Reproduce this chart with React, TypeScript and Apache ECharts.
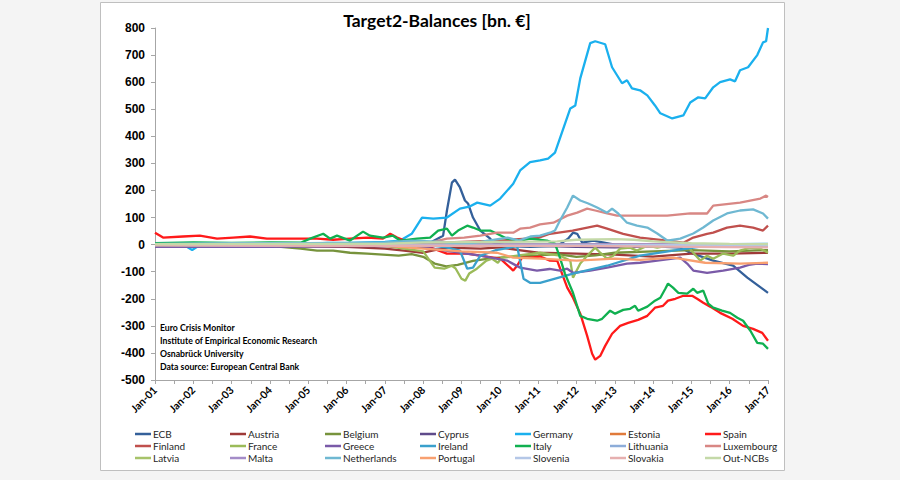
import React, { useEffect, useRef } from "react";
import * as echarts from "echarts";

type P = [number, number][];

// x = year (decimal), y = balance in bn. €
const ecb: P = [[2001, 0], [2003, -2], [2005, -3], [2007, -5], [2008, -3], [2008.18, 7], [2008.52, 33], [2008.62, 126], [2008.75, 229], [2008.83, 240], [2008.96, 211], [2009.09, 163], [2009.17, 152], [2009.3, 100], [2009.49, 52], [2009.75, 22], [2009.83, 7], [2010.2, -5], [2010.8, -8], [2011.5, -5], [2011.78, 22], [2011.91, 44], [2012.02, 40], [2012.15, 7], [2012.44, 15], [2013, 0], [2013.66, -4], [2014.71, -11], [2014.97, -30], [2015.57, -59], [2016.09, -78], [2016.46, -122], [2017, -178]];
const austria: P = [[2001, -3], [2004, -5], [2006, -8], [2007, -15], [2007.5, -22], [2008, -30], [2008.6, -11], [2009.5, -15], [2010, -10], [2010.5, -20], [2011, -30], [2012, -33], [2013, -37], [2014, -44], [2015, -33], [2016, -33], [2017, -30]];
const belgium: P = [[2001, -3], [2004, -5], [2004.8, -15], [2005.23, -22], [2005.65, -22], [2006.09, -30], [2006.54, -33], [2006.95, -37], [2007.36, -41], [2007.7, -35], [2008, -45], [2008.3, -70], [2008.6, -80], [2008.9, -75], [2009.3, -60], [2009.8, -50], [2010.3, -45], [2011, -40], [2011.5, -35], [2012, -45], [2012.5, -40], [2013, -30], [2014, -25], [2015, -20], [2016, -25], [2017, -20]];
const cyprus: P = [[2001, 0], [2008, -2], [2010, -3], [2011, -5], [2012, -8], [2013, -10], [2014, -6], [2015, -5], [2016, -4], [2017, -4]];
const germany: P = [[2001, 5], [2001.4, 0], [2001.8, -5], [2001.97, -20], [2002.15, -3], [2002.5, 2], [2003, 0], [2003.5, 3], [2004, 2], [2004.5, 5], [2005, 3], [2005.5, 6], [2006, 5], [2006.5, 8], [2007, 10], [2007.4, 15], [2007.7, 40], [2007.97, 100], [2008.26, 96], [2008.62, 100], [2008.96, 133], [2009.2, 140], [2009.41, 155], [2009.75, 144], [2010.01, 170], [2010.35, 225], [2010.53, 274], [2010.79, 305], [2011.05, 311], [2011.26, 318], [2011.44, 340], [2011.84, 503], [2011.97, 514], [2012.1, 614], [2012.36, 744], [2012.49, 751], [2012.75, 740], [2012.93, 655], [2013.19, 596], [2013.32, 607], [2013.45, 577], [2013.66, 570], [2013.85, 551], [2014.05, 514], [2014.19, 485], [2014.5, 466], [2014.79, 477], [2014.97, 525], [2015.18, 544], [2015.36, 540], [2015.57, 581], [2015.75, 600], [2016.01, 610], [2016.14, 603], [2016.27, 644], [2016.48, 655], [2016.72, 700], [2016.87, 747], [2016.95, 751], [2017, 800]];
const estonia: P = [[2001, -1], [2011, -1], [2014, -1], [2017, -2]];
const spain: P = [[2001, 44], [2001.21, 26], [2001.73, 30], [2002.17, 33], [2002.62, 22], [2003.04, 26], [2003.48, 30], [2003.92, 22], [2004.34, 22], [2004.79, 22], [2005.23, 22], [2005.65, 18], [2006.09, 22], [2006.54, 26], [2006.95, 22], [2007.14, 40], [2007.32, 26], [2007.66, 7], [2008.18, -10], [2008.62, -33], [2009.15, -33], [2009.49, -41], [2009.83, -48], [2010.01, -52], [2010.27, -85], [2010.35, -96], [2010.45, -78], [2010.58, -48], [2010.79, -48], [2011.05, -44], [2011.31, -59], [2011.5, -60], [2011.76, -159], [2011.91, -196], [2012.1, -255], [2012.28, -337], [2012.41, -403], [2012.49, -425], [2012.62, -411], [2012.75, -374], [2012.93, -329], [2013.14, -300], [2013.35, -289], [2013.61, -278], [2013.85, -263], [2014.05, -233], [2014.26, -226], [2014.39, -207], [2014.58, -200], [2014.79, -189], [2015.02, -189], [2015.15, -200], [2015.31, -215], [2015.49, -229], [2015.75, -252], [2016.07, -274], [2016.35, -300], [2016.61, -311], [2016.85, -326], [2017, -355]];
const finland: P = [[2001, 0], [2007, 2], [2008, 5], [2009, 10], [2010, 15], [2010.5, 20], [2011, 25], [2011.31, 40], [2011.9, 52], [2012.54, 70], [2012.8, 59], [2013.22, 40], [2013.66, 26], [2014.37, 15], [2014.79, 7], [2015.05, 26], [2015.41, 40], [2015.57, 44], [2015.93, 63], [2016.27, 70], [2016.61, 63], [2016.87, 52], [2017, 70]];
const france: P = [[2001, 0], [2005, -3], [2007, -5], [2007.5, -15], [2008, -25], [2008.3, -85], [2008.55, -89], [2008.75, -78], [2008.85, -89], [2009, -126], [2009.1, -133], [2009.2, -107], [2009.4, -89], [2009.65, -59], [2009.8, -52], [2009.95, -67], [2010.05, -48], [2010.5, -40], [2011.05, -30], [2011.57, -41], [2011.84, -59], [2011.91, -122], [2012.1, -70], [2012.28, -41], [2012.49, -11], [2012.62, -30], [2012.8, -52], [2012.96, -41], [2013.14, -15], [2013.4, -11], [2013.58, -22], [2013.85, -4], [2014.11, -11], [2014.37, -4], [2014.63, 4], [2014.89, -4], [2015.05, -30], [2015.23, -59], [2015.41, -41], [2015.57, -52], [2015.83, -33], [2016.09, -41], [2016.27, -22], [2016.54, -11], [2016.8, -15], [2017, -30]];
const greece: P = [[2001, -8], [2004, -8], [2007, -5], [2008, -10], [2008.5, -20], [2009.49, -41], [2010.19, -59], [2010.53, -85], [2010.97, -96], [2011.3, -90], [2011.57, -96], [2011.76, -89], [2011.91, -104], [2012.36, -96], [2012.8, -85], [2013.32, -70], [2013.66, -67], [2014.11, -59], [2014.71, -48], [2014.89, -70], [2015.05, -96], [2015.41, -104], [2015.83, -96], [2016.27, -85], [2016.5, -75], [2016.72, -70], [2017, -72]];
const ireland: P = [[2001, -3], [2007, -3], [2008, 0], [2008.6, -10], [2008.96, -22], [2009.15, -89], [2009.3, -85], [2009.49, -41], [2009.9, -20], [2010.3, -10], [2010.45, -4], [2010.62, -126], [2010.79, -141], [2011.05, -141], [2011.91, -107], [2012.8, -78], [2013.66, -41], [2014.52, -22], [2014.89, -15], [2015.41, -4], [2016, 2], [2017, 3]];
const italy: P = [[2001, 5], [2002, 8], [2003, 6], [2004, 8], [2004.8, 7], [2005.05, 22], [2005.39, 40], [2005.57, 22], [2005.75, 33], [2006.09, 15], [2006.43, 48], [2006.61, 33], [2006.95, 26], [2007.21, 33], [2007.4, 15], [2007.84, 22], [2008.18, 26], [2008.39, 52], [2008.62, 59], [2008.75, 33], [2008.91, 52], [2009.15, 70], [2009.3, 63], [2009.49, 52], [2009.75, 52], [2009.93, 40], [2010.19, 22], [2010.53, 15], [2010.79, 22], [2011.23, 15], [2011.44, 4], [2011.55, -40], [2011.7, -107], [2011.91, -178], [2012.1, -263], [2012.28, -274], [2012.54, -281], [2012.67, -274], [2012.88, -244], [2013.01, -255], [2013.22, -241], [2013.4, -237], [2013.53, -226], [2013.61, -244], [2013.85, -229], [2014.05, -207], [2014.19, -196], [2014.32, -163], [2014.39, -144], [2014.52, -159], [2014.66, -178], [2014.89, -181], [2015.05, -163], [2015.15, -178], [2015.31, -170], [2015.44, -218], [2015.57, -233], [2015.8, -244], [2016.01, -252], [2016.2, -270], [2016.35, -281], [2016.54, -318], [2016.72, -363], [2016.87, -366], [2017, -385]];
const lithuania: P = [[2001, 0], [2015, -2], [2017, -3]];
const luxembourg: P = [[2001, 0], [2003, 2], [2005, 3], [2006, 5], [2007, 5], [2007.7, 0], [2008.18, 7], [2008.62, 22], [2009.07, 26], [2009.49, 33], [2009.93, 44], [2010.35, 44], [2010.53, 59], [2010.79, 63], [2011.05, 75], [2011.4, 81], [2011.76, 107], [2012.02, 118], [2012.28, 133], [2012.49, 126], [2012.8, 115], [2013.06, 107], [2013.66, 107], [2014.37, 107], [2014.97, 115], [2015.41, 115], [2015.57, 144], [2016.27, 155], [2016.8, 170], [2016.95, 181], [2017, 176]];
const latvia: P = [[2001, 0], [2017, -1]];
const malta: P = [[2001, 0], [2017, 2]];
const netherlands: P = [[2001, 3], [2003, 5], [2005, 5], [2007, 8], [2007.7, 15], [2008.5, 10], [2009, 0], [2009.5, 10], [2010.2, 26], [2010.5, 15], [2010.8, 30], [2011.05, 33], [2011.31, 44], [2011.44, 52], [2011.57, 89], [2011.76, 137], [2011.91, 181], [2012.1, 163], [2012.31, 152], [2012.54, 137], [2012.8, 118], [2012.93, 133], [2013.09, 115], [2013.32, 81], [2013.58, 70], [2013.85, 63], [2014.11, 41], [2014.37, 15], [2014.71, 22], [2015.05, 41], [2015.31, 63], [2015.57, 89], [2015.93, 115], [2016.27, 126], [2016.61, 130], [2016.87, 115], [2017, 96]];
const portugal: P = [[2001, -3], [2007, -5], [2008, -15], [2009, -25], [2009.93, -30], [2010.35, -48], [2011.05, -52], [2012, -59], [2013, -52], [2013.66, -56], [2014.52, -48], [2015.36, -67], [2016.27, -70], [2017, -67]];
const slovenia: P = [[2001, -2], [2007, -3], [2011, -4], [2014, -2], [2017, -3]];
const slovakia: P = [[2001, -1], [2009, -5], [2012, -5], [2015, -8], [2017, -10]];
const outNcbs: P = [[2001, 2], [2007, 3], [2008, 8], [2010, 10], [2011.5, 12], [2012, 18], [2013, 20], [2013.5, 18], [2014, 12], [2015, 5], [2016, 3], [2017, 2]];

const seriesNames = ["ECB", "Austria", "Belgium", "Cyprus", "Germany", "Estonia", "Spain", "Finland", "France", "Greece", "Ireland", "Italy", "Lithuania", "Luxembourg", "Latvia", "Malta", "Netherlands", "Portugal", "Slovenia", "Slovakia", "Out-NCBs"];
const seriesValues: P[] = [ecb, austria, belgium, cyprus, germany, estonia, spain, finland, france, greece, ireland, italy, lithuania, luxembourg, latvia, malta, netherlands, portugal, slovenia, slovakia, outNcbs];
const seriesColors = ["#34609A", "#9E3A38", "#77933C", "#5F4B8B", "#1AB0EE", "#E07A3A", "#FF1A1A", "#C0504D", "#9BBB59", "#7A5AA8", "#3AA0CC", "#10B050", "#8DADD9", "#D88784", "#A7C36A", "#A48CC8", "#6FB8D2", "#F8A070", "#B4C7E7", "#E6B0B0", "#C4D9A8"];

const yMin = -500;
const yMax = 800;
const yStep = 100;
const xFirstYear = 2001;
const xLastYear = 2017;

const titleText = "Target2-Balances [bn. €]";
const noteLines = ["Euro Crisis Monitor", "Institute of Empirical Economic Research", "Osnabrück University", "Data source: European Central Bank"];

export default function App() {
  const ref = useRef<HTMLDivElement>(null);
  useEffect(() => {
    if (!ref.current) return;
    const chart = echarts.init(ref.current, undefined, { renderer: "svg" });
    const legends = seriesNames.map((name, i) => ({
      data: [name],
      left: 135 + (i % 7) * 95,
      top: 429 + Math.floor(i / 7) * 12,
      padding: 0,
      icon: "rect",
      itemWidth: 16,
      itemHeight: 2.5,
      selectedMode: false,
      textStyle: { fontFamily: "Lato", fontSize: 10, color: "#262626", padding: [0, 0, 0, -3] },
    }));
    const option: any = {
      animation: false,
      backgroundColor: "transparent",
      textStyle: { fontFamily: "Lato" },
      title: {
        text: titleText,
        left: 432,
        top: 6,
        textAlign: "center",
        textStyle: { fontFamily: "Lato", fontWeight: "bold", fontSize: 17.5, color: "#000" },
      },
      graphic: [
        {
          type: "rect",
          z: -10,
          shape: { x: 100.5, y: 2.5, width: 684, height: 468 },
          style: { fill: "#ffffff", stroke: "#BFBFBF", lineWidth: 1 },
        },
        ...noteLines.map((t, i) => ({
          type: "text",
          left: 160,
          top: 323 + i * 13,
          z: 10,
          style: { text: t, fontFamily: "Lato", fontWeight: "bold", fontSize: 8.7, fill: "#000" },
        })),
      ],
      legend: legends,
      grid: { left: 155, top: 28, width: 613, height: 352, containLabel: false },
      xAxis: {
        type: "value",
        min: xFirstYear,
        max: xLastYear,
        interval: 1,
        axisLine: { onZero: false, lineStyle: { color: "#A6A6A6" } },
        axisTick: { show: true, length: 4, lineStyle: { color: "#A6A6A6" } },
        minorTick: { show: true, splitNumber: 2, length: 4, lineStyle: { color: "#A6A6A6" } },
        splitLine: { show: false },
        axisLabel: {
          rotate: 45,
          margin: 8,
          fontFamily: "Lato",
          fontWeight: "bold",
          fontSize: 10.5,
          color: "#000",
          formatter: (v: number) => {
            const yr = Math.round(v);
            if (Math.abs(v - yr) > 0.01) return "";
            return "Jan-" + String(yr).slice(2);
          },
        },
      },
      yAxis: {
        type: "value",
        min: yMin,
        max: yMax,
        interval: yStep,
        axisLine: { show: true, lineStyle: { color: "#A6A6A6" } },
        axisTick: { show: true, length: 4, lineStyle: { color: "#A6A6A6" } },
        splitLine: { show: false },
        axisLabel: { margin: 10, fontFamily: "Liberation Sans", fontWeight: "bold", fontSize: 12, color: "#000" },
      },
      series: seriesNames.map((name, i) => ({
        name,
        type: "line",
        data: seriesValues[i],
        showSymbol: false,
        symbol: "none",
        lineStyle: { width: 2.3, color: seriesColors[i] },
        itemStyle: { color: seriesColors[i] },
        z: 2,
      })),
    };
    chart.setOption(option);
    return () => chart.dispose();
  }, []);
  return (
    <div style={{ position: "fixed", left: 0, top: 0, width: 900, height: 480, background: "#F4F4F4" }}>
      <div ref={ref} style={{ width: 900, height: 480 }} />
    </div>
  );
}
